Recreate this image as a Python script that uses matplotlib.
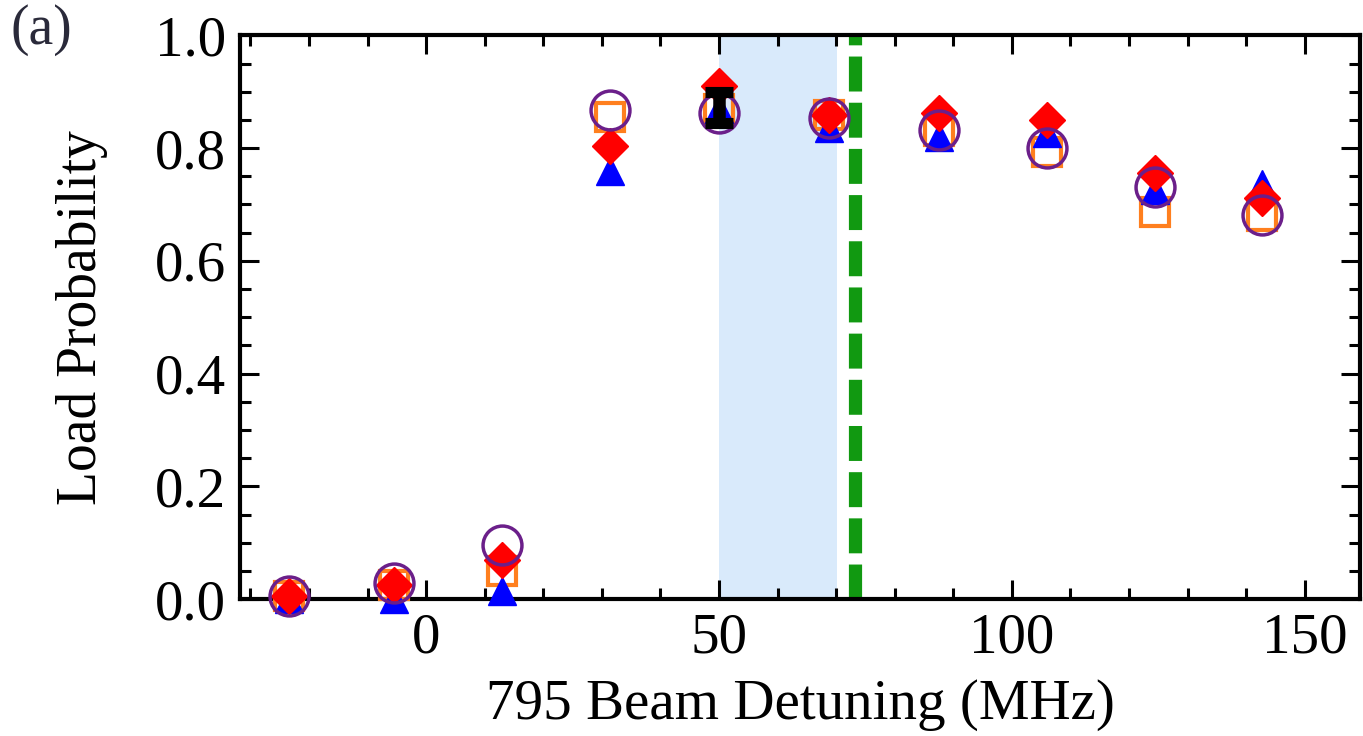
import numpy as np
import matplotlib
matplotlib.use("Agg")
from matplotlib import pyplot as plt
from matplotlib.ticker import MultipleLocator

# detuning (MHz) of each measurement
detuning = [-23.4, -5.5, 13.0, 31.4, 50.0, 68.8, 87.6, 106.0, 124.4, 142.8]

triangles = [0.0, 0.0, 0.015, 0.76, 0.87, 0.835, 0.82, 0.826, 0.725, 0.737]
diamonds = [0.005, 0.025, 0.07, 0.803, 0.911, 0.858, 0.863, 0.849, 0.755, 0.711]
squares = [0.005, 0.025, 0.05, 0.855, 0.87, 0.858, 0.83, 0.793, 0.686, 0.68]
circles = [0.005, 0.028, 0.096, 0.867, 0.863, 0.853, 0.832, 0.80, 0.731, 0.681]

# black error bar point
err_x = [50.0]
err_y = [0.872]
err_e = [0.028]

band = (50.0, 70.2)
dashed_x = 73.3

plt.rcParams['font.family'] = ['Liberation Serif', 'DejaVu Serif']

fig = plt.figure(figsize=(13.63, 7.36), dpi=100)
ax = fig.add_axes([0.176, 0.186, 0.822, 0.766])

ax.axvspan(band[0], band[1], color='#d9eafb', lw=0, zorder=0)
ax.axvline(dashed_x, color='#119911', lw=9.5, dashes=(2.65, 0.85), zorder=1)

ax.plot(detuning, squares, ls='none', marker='s', ms=20, mfc='none',
        mec='#ff7f1e', mew=3, zorder=3, clip_on=False)
ax.plot(detuning, triangles, ls='none', marker='^', ms=20, color='#0000ff',
        zorder=4, clip_on=False)
ax.plot(detuning, diamonds, ls='none', marker='D', ms=18, color='#ff0000',
        zorder=5, clip_on=False)
ax.plot(detuning, circles, ls='none', marker='o', ms=28, mfc='none',
        mec='#6b1f8a', mew=2.5, zorder=6, clip_on=False)
ax.errorbar(err_x, err_y, yerr=err_e, fmt='none', ecolor='black',
            elinewidth=9, capsize=10, capthick=8, zorder=7)

ax.set_xlim(-31.8, 159.5)
ax.set_ylim(0.0, 1.0)
ax.xaxis.set_major_locator(MultipleLocator(50))
ax.xaxis.set_minor_locator(MultipleLocator(10))
ax.yaxis.set_major_locator(MultipleLocator(0.2))
ax.yaxis.set_minor_locator(MultipleLocator(0.05))
ax.yaxis.set_major_formatter(matplotlib.ticker.FormatStrFormatter('%.1f'))

ax.tick_params(which='both', direction='in', top=True, right=True,
               labelsize=41, width=2.2)
ax.tick_params(which='major', length=14, pad=10)
ax.tick_params(which='minor', length=8)
for s in ax.spines.values():
    s.set_linewidth(3)

ax.set_xlabel('795 Beam Detuning (MHz)', fontsize=41, labelpad=10)
ax.set_ylabel('Load Probability', fontsize=40, labelpad=34)
fig.text(0.008, 0.94, '(a)', fontsize=40, color='#2a2a3a')

fig.savefig('out.png', dpi=100)
